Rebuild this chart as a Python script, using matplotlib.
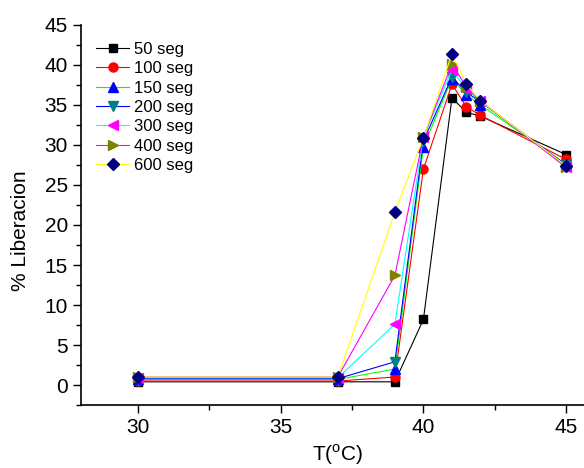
import matplotlib
matplotlib.use('Agg')
import matplotlib.pyplot as plt
from matplotlib.ticker import MultipleLocator

plt.rcParams['font.family'] = ['Liberation Sans', 'DejaVu Sans']
plt.rcParams['mathtext.fontset'] = 'custom'
plt.rcParams['mathtext.rm'] = 'Liberation Sans'

# Temperatures (°C)
T = [30, 37, 39, 40, 41, 41.5, 42, 45]

# % Liberacion for each time
lib_50 = [0.4, 0.4, 0.4, 8.2, 35.9, 34.1, 33.6, 28.8]
lib_100 = [0.5, 0.5, 1.0, 27.0, 37.6, 34.8, 33.7, 28.2]
lib_150 = [0.7, 0.7, 2.0, 29.8, 38.3, 36.3, 35.0, 27.6]
lib_200 = [0.8, 0.8, 2.9, 30.5, 38.5, 36.6, 35.4, 27.5]
lib_300 = [0.9, 0.9, 7.6, 31.0, 39.4, 37.0, 35.5, 27.3]
lib_400 = [1.0, 1.0, 13.7, 31.0, 40.1, 37.3, 35.5, 27.2]
lib_600 = [1.0, 1.0, 21.6, 30.9, 41.4, 37.6, 35.5, 27.4]

labels = ['50 seg', '100 seg', '150 seg', '200 seg', '300 seg', '400 seg', '600 seg']
series = [lib_50, lib_100, lib_150, lib_200, lib_300, lib_400, lib_600]
line_colors = ['black', 'red', '#00ff00', 'blue', 'cyan', 'magenta', 'yellow']
marker_colors = ['black', 'red', 'blue', '#008080', 'magenta', '#808000', '#000080']
markers = ['s', 'o', '^', 'v', '<', '>', 'D']
msizes = [5.5, 6.5, 7, 7, 7, 7, 6.5]

fig = plt.figure(figsize=(5.84, 4.68), dpi=100)
ax = fig.add_axes([0.1387, 0.1346, 0.8795, 0.812])

for y, lab, lc, mc, mk, ms in zip(series, labels, line_colors, marker_colors, markers, msizes):
    ax.plot(T, y, color=lc, lw=0.8, marker=mk, markersize=ms,
            markerfacecolor=mc, markeredgecolor=mc, label=lab)

ax.set_xlim(28, 46)
ax.set_ylim(-2.5, 45)
ax.xaxis.set_major_locator(MultipleLocator(5))
ax.xaxis.set_minor_locator(MultipleLocator(2.5))
ax.yaxis.set_major_locator(MultipleLocator(5))
ax.yaxis.set_minor_locator(MultipleLocator(2.5))
ax.tick_params(which='major', direction='out', length=6, width=1, labelsize=15)
ax.tick_params(which='minor', direction='out', length=3.5, width=1)
for s in ['top', 'right']:
    ax.spines[s].set_visible(False)
for s in ['left', 'bottom']:
    ax.spines[s].set_linewidth(1.2)

ax.set_xlabel(r'T($^{\mathrm{o}}$C)', fontsize=15, labelpad=4)
ax.set_ylabel('% Liberacion', fontsize=15)
ax.yaxis.set_label_coords(-0.1, 0.46)

ax.legend(loc='upper left', bbox_to_anchor=(0.0, 0.995), frameon=False,
          fontsize=12, handlelength=2.0, handletextpad=0.3, labelspacing=0.26,
          borderaxespad=0.5)

fig.savefig('out.png', dpi=100)
